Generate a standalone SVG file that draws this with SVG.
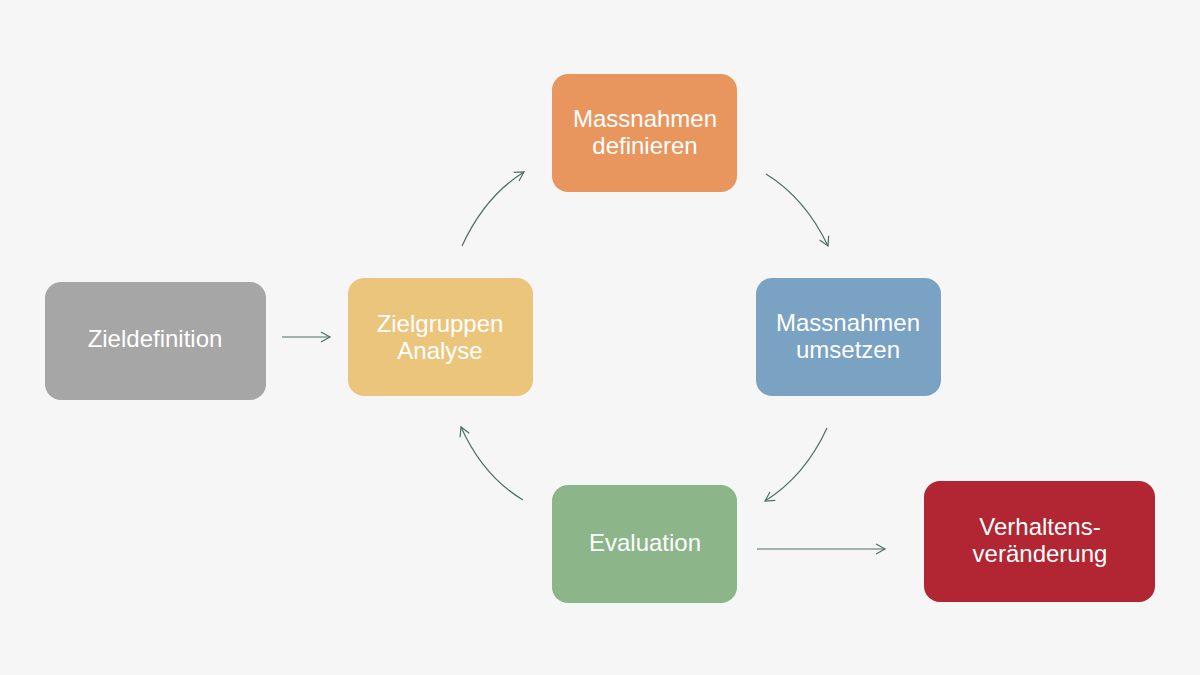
<svg xmlns="http://www.w3.org/2000/svg" width="1200" height="675" viewBox="0 0 1200 675">
<defs>
<marker id="ah" markerWidth="12" markerHeight="12" refX="10" refY="6" orient="auto" markerUnits="userSpaceOnUse"><path d="M1,1 L10,6 L1,11" fill="none" stroke="#4f6f5f" stroke-width="1.2"/></marker>
<style>
.t{font-family:"Liberation Sans",Arial,sans-serif;font-size:24px;fill:#fff;text-anchor:middle}
.c{fill:none;stroke:#4f6f5f;stroke-width:1.2;marker-end:url(#ah)}
</style>
</defs>
<rect width="1200" height="675" fill="#f6f6f6"/>
<g id="zieldefinition"><rect x="45" y="282" width="221" height="118" rx="16" fill="#a6a6a6"/><text class="t" x="155" y="347">Zieldefinition</text></g>
<g id="zielgruppen"><rect x="348" y="278" width="185" height="118" rx="16" fill="#ecc57c"/><text class="t" x="440" y="332">Zielgruppen</text><text class="t" x="440" y="359">Analyse</text></g>
<g id="definieren"><rect x="552" y="74" width="185" height="118" rx="16" fill="#e8965e"/><text class="t" x="645" y="127">Massnahmen</text><text class="t" x="645" y="154">definieren</text></g>
<g id="umsetzen"><rect x="756" y="278" width="185" height="118" rx="16" fill="#7aa2c3"/><text class="t" x="848" y="331">Massnahmen</text><text class="t" x="848" y="358">umsetzen</text></g>
<g id="evaluation"><rect x="552" y="485" width="185" height="118" rx="16" fill="#8cb58a"/><text class="t" x="645" y="551">Evaluation</text></g>
<g id="verhalten"><rect x="924" y="481" width="231" height="121" rx="16" fill="#b22532"/><text class="t" x="1040" y="535">Verhaltens-</text><text class="t" x="1040" y="562">veränderung</text></g>
<g id="connectors">
<path class="c" d="M282,337 L330,337"/>
<path class="c" d="M462,246 Q485,196 524,172"/>
<path class="c" d="M766,174 Q805,198 828,246"/>
<path class="c" d="M827,428 Q805,476 765,501"/>
<path class="c" d="M523,500 Q483,476 461,427"/>
<path class="c" d="M757,549 L885,549"/>
</g>
</svg>
